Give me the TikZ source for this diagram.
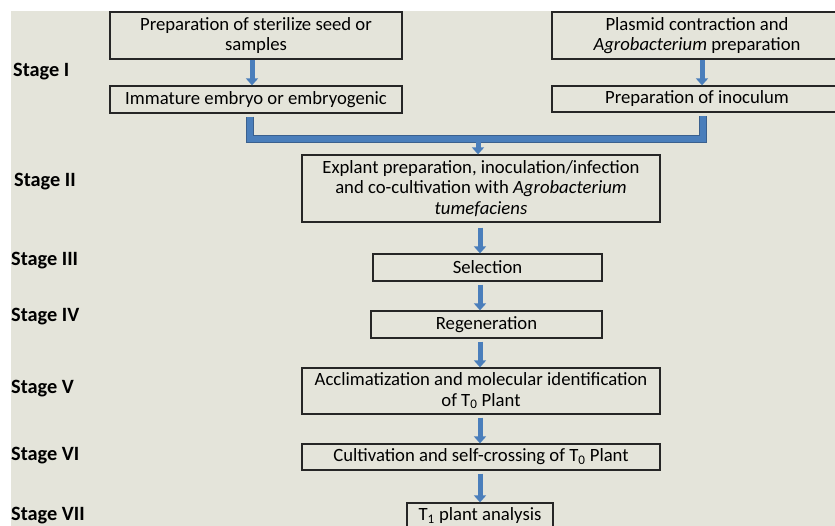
\documentclass[tikz,border=0pt]{standalone}
\usepackage{fontspec}
\setmainfont{Carlito}
\usetikzlibrary{arrows.meta,shadows}
\definecolor{bg}{RGB}{228,228,218}
\definecolor{flow}{RGB}{74,126,187}
\definecolor{flowdark}{RGB}{58,96,142}
\begin{document}
\begin{tikzpicture}[x=1pt,y=-1pt,
  box/.style={draw=black!85, fill=bg, line width=1.3pt, rectangle, inner sep=0pt, align=center,
              drop shadow={shadow xshift=1.2pt, shadow yshift=-1.2pt, fill=black, opacity=0.25},
              font=\fontsize{18.7}{20.5}\selectfont},
  stagelbl/.style={anchor=base west, inner sep=0pt, font=\fontsize{20.3}{22}\selectfont\bfseries},
  flowarrow/.style={draw=flow, line width=5pt, -{Triangle[width=12pt,length=7pt]}},
  linkout/.style={draw=flowdark, line width=7.5pt, line join=miter},
  linkin/.style={draw=flow, line width=5.5pt, line join=miter}]
\useasboundingbox (0,0) rectangle (835,526);
\fill[white] (0,0) rectangle (835,526);
\fill[bg] (11,11) rectangle (835,526);

% helper x positions
\coordinate (ax) at (252,0);
\coordinate (cx) at (702,0);
\coordinate (lx) at (250,0);
\coordinate (rx) at (703,0);
\coordinate (jx) at (478,0);
\coordinate (mx) at (480,0);
\coordinate (jn) at (0,139);

% stage labels
\node[stagelbl] (s1) at (13,77) {Stage I};
\node[stagelbl] (s2) at (14,187) {Stage II};
\node[stagelbl] (s3) at (11,266) {Stage III};
\node[stagelbl] (s4) at (11,322) {Stage IV};
\node[stagelbl] (s5) at (11,393) {Stage V};
\node[stagelbl] (s6) at (11,460) {Stage VI};
\node[stagelbl] (s7) at (11,520) {Stage VII};

% boxes
\node[box, minimum width=292pt, minimum height=47pt] (a) at (256,35.5)
  {Preparation of sterilize seed or\\samples};
\node[box, minimum width=292pt, minimum height=27pt] (b) at (256,99.5)
  {Immature embryo or embryogenic};
\node[box, minimum width=290pt, minimum height=47pt] (c) at (697,35.5)
  {Plasmid contraction and\\\textit{Agrobacterium} preparation};
\node[box, minimum width=290pt, minimum height=26pt] (d) at (697,99)
  {Preparation of inoculum};
\node[box, minimum width=358pt, minimum height=67pt] (e) at (481,188.5)
  {Explant preparation, inoculation/infection\\and co-cultivation with \textit{Agrobacterium}\\\textit{tumefaciens}};
\node[box, minimum width=229pt, minimum height=27pt] (f) at (487.5,267.5) {Selection};
\node[box, minimum width=231pt, minimum height=27pt] (g) at (486.5,324.5) {Regeneration};
\node[box, minimum width=358pt, minimum height=46pt] (h) at (481,391)
  {Acclimatization and molecular identification\\of T\textsubscript{0} Plant};
\node[box, minimum width=358pt, minimum height=26pt] (i) at (481,457)
  {Cultivation and self-crossing of T\textsubscript{0} Plant};
\node[box, minimum width=146pt, minimum height=25pt] (j) at (480,515.5)
  {T\textsubscript{1} plant analysis};

% arrows stage I
\draw[flowarrow] (a.south -| ax) -- (b.north -| ax);
\draw[flowarrow] (c.south -| cx) -- (d.north -| cx);

% joining connector
\draw[linkout] ([yshift=-3pt]b.south -| lx) -- (lx |- jn) -- (rx |- jn) -- ([yshift=-3pt]d.south -| rx);
\draw[linkin] ([yshift=-3.8pt]b.south -| lx) -- (lx |- jn) -- (rx |- jn) -- ([yshift=-3.8pt]d.south -| rx);
\draw[flowarrow] ([yshift=-3pt]jx |- jn) -- (e.north -| jx);

% main column arrows
\draw[flowarrow] ([yshift=-5pt]e.south -| mx) -- (f.north -| mx);
\draw[flowarrow] ([yshift=-3pt]f.south -| mx) -- (g.north -| mx);
\draw[flowarrow] ([yshift=-3pt]g.south -| mx) -- (h.north -| mx);
\draw[flowarrow] ([yshift=-3pt]h.south -| mx) -- (i.north -| mx);
\draw[flowarrow] ([yshift=-3pt]i.south -| mx) -- (j.north -| mx);
\end{tikzpicture}
\end{document}
